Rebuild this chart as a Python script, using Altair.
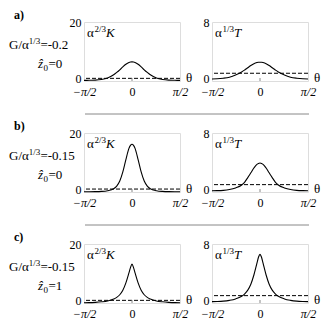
import altair as alt
import pandas as pd
import math

FONT = "Liberation Serif"
PI = math.pi

# ---- data ----
THETA = [-1.571, -1.4, -1.2, -1.0, -0.8, -0.6, -0.5, -0.4, -0.3, -0.2, -0.1, -0.05, 0.0,
         0.05, 0.1, 0.2, 0.3, 0.4, 0.5, 0.6, 0.8, 1.0, 1.2, 1.4, 1.571]

K_a = [0.2, 0.25, 0.3, 0.5, 1.0, 2.1, 2.9, 3.8, 4.8, 5.7, 6.3, 6.45, 6.5,
       6.45, 6.3, 5.7, 4.8, 3.8, 2.9, 2.1, 1.0, 0.5, 0.3, 0.25, 0.2]
T_a = [0.28, 0.3, 0.38, 0.52, 0.8, 1.22, 1.5, 1.8, 2.1, 2.35, 2.5, 2.54, 2.55,
       2.54, 2.5, 2.35, 2.1, 1.8, 1.5, 1.22, 0.8, 0.52, 0.38, 0.3, 0.28]
K_b = [0.1, 0.1, 0.12, 0.2, 0.45, 1.1, 2.0, 3.7, 6.8, 11.0, 14.8, 15.8, 16.2,
       15.8, 14.8, 11.0, 6.8, 3.7, 2.0, 1.1, 0.45, 0.2, 0.12, 0.1, 0.1]
T_b = [0.17, 0.18, 0.22, 0.33, 0.55, 0.95, 1.35, 1.95, 2.6, 3.25, 3.75, 3.88, 3.93,
       3.88, 3.75, 3.25, 2.6, 1.95, 1.35, 0.95, 0.55, 0.33, 0.22, 0.18, 0.17]
K_c = [0.1, 0.12, 0.22, 0.4, 0.7, 1.35, 1.9, 2.8, 4.3, 6.8, 10.2, 12.0, 13.2,
       12.0, 10.2, 6.8, 4.3, 2.8, 1.9, 1.35, 0.7, 0.4, 0.22, 0.12, 0.1]
T_c = [0.18, 0.2, 0.25, 0.36, 0.55, 0.92, 1.25, 1.75, 2.55, 3.8, 5.4, 6.2, 6.6,
       6.2, 5.4, 3.8, 2.55, 1.75, 1.25, 0.92, 0.55, 0.36, 0.25, 0.2, 0.18]

DASH_K = [0.9, 1.0, 0.9]
DASH_T = [1.05, 1.0, 1.0]
YMAX_K = 20
YMAX_T = 8
ROW_LETTERS = ["a)", "b)", "c)"]
ROW_G = ["=-0.2", "=-0.15", "=-0.15"]
ROW_Z = ["=0", "=0", "=1"]
XTICKS = [-PI / 2, 0, PI / 2]

W, H = 96, 59
SH, SV = 32, 52
GX = -75


def txt(s, x, y, size=13, style="normal", weight="normal", align="left", baseline="alphabetic"):
    return alt.Chart(alt.Data(values=[{}])).mark_text(
        text=s, fontSize=size, fontStyle=style, fontWeight=weight, align=align,
        baseline=baseline, font=FONT, color="black"
    ).encode(x=alt.value(x), y=alt.value(y))


def panel(vals, dash, ymax, sup, var, row, left, sep):
    df = pd.DataFrame({"theta": THETA, "v": vals})
    x = alt.X("theta:Q", scale=alt.Scale(domain=[-PI / 2, PI / 2], nice=False, zero=False),
              axis=alt.Axis(values=XTICKS, title=None, grid=False, domain=False, ticks=False,
                            labelFlush=False, labelPadding=5, labelFontSize=12, labelFont=FONT,
                            labelColor="black", labelAngle=0,
                            labelExpr="datum.value < -0.5 ? '\u2212\u03c0/2' : (datum.value > 0.5 ? '\u03c0/2' : '0')",
                            labelFontStyle={"condition": {"test": "datum.value != 0", "value": "italic"},
                                            "value": "normal"}))
    y = alt.Y("v:Q", scale=alt.Scale(domain=[0, ymax], nice=False),
              axis=alt.Axis(values=[0, ymax], title=None, grid=False, domain=False, ticks=False,
                            labelPadding=3, labelFontSize=12, labelFont=FONT, labelColor="black",
                            labelOffset={"condition": {"test": "datum.value == 0", "value": -3},
                                         "value": 0}))
    line = alt.Chart(df).mark_line(color="black", strokeWidth=1.1, interpolate="monotone").encode(x=x, y=y)
    dashed = alt.Chart(pd.DataFrame({"v": [dash]})).mark_rule(
        color="black", strokeWidth=1, strokeDash=[4, 2]).encode(y="v:Q")
    tick = alt.Chart(pd.DataFrame({"theta": [0.0]})).mark_rule(color="#888").encode(
        x="theta:Q", y=alt.value(H), y2=alt.value(H - 3))
    layers = [line, dashed, tick,
              txt("\u03b1", 3, 15),
              txt(sup, 10.5, 9.5, size=9),
              txt(var, 22, 15, style="italic"),
              txt("\u03b8", W + 6, H - 3, baseline="middle")]
    if left:
        layers += [
            txt(ROW_LETTERS[row], GX + 5, -7, size=12, weight="bold", baseline="middle"),
            txt("G/\u03b1", GX, 27),
            txt("1/3", GX + 19.7, 21.5, size=9),
            txt(ROW_G[row], GX + 31.4, 27),
            txt("\u1e91", GX + 29, 46, style="italic"),
            txt("0", GX + 34.5, 49, size=9),
            txt(ROW_Z[row], GX + 39.5, 46),
        ]
        if sep:
            layers.append(alt.Chart(alt.Data(values=[{}])).mark_rule(color="#888", strokeWidth=1).encode(
                x=alt.value(1), x2=alt.value(2 * W + SH + 1), y=alt.value(H + 33)))
    return alt.layer(*layers).properties(width=W, height=H)


Ks = [K_a, K_b, K_c]
Ts = [T_a, T_b, T_c]
panels = []
for i in range(3):
    panels.append(panel(Ks[i], DASH_K[i], YMAX_K, "2/3", "K", i, True, i < 2))
    panels.append(panel(Ts[i], DASH_T[i], YMAX_T, "1/3", "T", i, False, False))

chart = alt.concat(*panels, columns=2, spacing={"row": SV, "column": SH}, bounds="flush").properties(
    padding=0).configure_view(stroke="#999", strokeWidth=1).configure(font=FONT)

chart.save("out.html", embed_options={"renderer": "svg", "actions": False})
